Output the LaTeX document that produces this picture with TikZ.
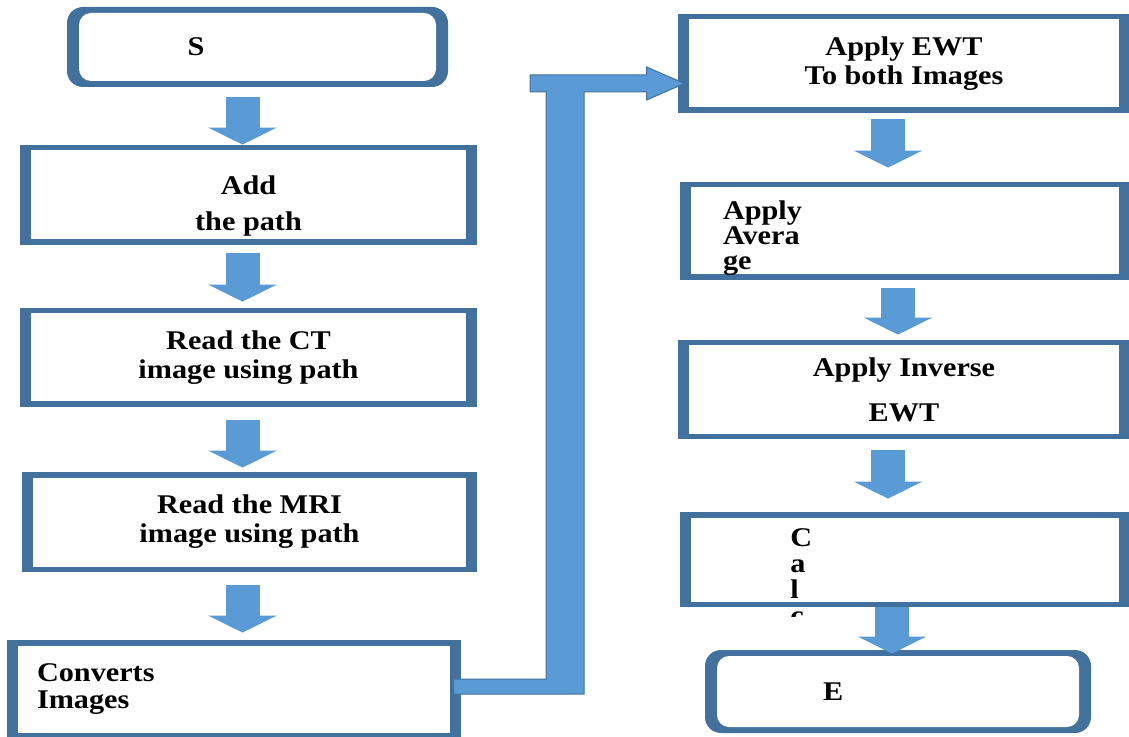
\documentclass[tikz,border=0pt]{standalone}
\usepackage{fontspec}
\setmainfont{Liberation Serif}[FakeStretch=1.12]
\usetikzlibrary{calc, arrows.meta}

\definecolor{edgeblue}{HTML}{41719C}
\definecolor{flowblue}{HTML}{5B9BD5}

\begin{document}
\begin{tikzpicture}[
    x=0.5pt, y=-0.5pt,
    stage/.style={fill=edgeblue, minimum width=228.5pt, minimum height=50pt, inner sep=0pt,
        align=center, font=\bfseries\fontsize{13.5}{14.5}\selectfont,
        path picture={\fill[white] ([xshift=5.5pt,yshift=-2.75pt]path picture bounding box.north west)
            rectangle ([xshift=-5.5pt,yshift=2.75pt]path picture bounding box.south east);}},
    terminal/.style={stage, rounded corners=8pt,
        path picture={\fill[white, rounded corners=6pt] ([xshift=6pt,yshift=-3pt]path picture bounding box.north west)
            rectangle ([xshift=-6pt,yshift=3pt]path picture bounding box.south east);}},
    flowdown/.style={draw=flowblue, line width=17pt, -{Triangle[width=34pt, length=8.5pt]}},
    elbow/.style={fill=flowblue, draw=edgeblue, line width=0.5pt, line join=miter}
]
    \useasboundingbox (0,0) rectangle (1129,737);

    % Left column
    \node[terminal, minimum width=190.5pt, minimum height=40pt, text width=70pt, inner xsep=60.25pt, align=left] (start) at (257.5,47) {S};
    \node[stage, font=\bfseries\fontsize{13.5}{18}\selectfont] (add) at (248.5,195) {\rule{0pt}{20pt}Add\\the path};
    \node[stage, minimum height=49.5pt] (ct) at (248.5,357.5) {Read the CT\\image using path};
    \node[stage, minimum width=227.5pt] (mri) at (249.5,522) {Read the MRI\\image using path};
    \node[stage, minimum width=227pt, minimum height=49pt, text width=197pt, inner xsep=15pt, align=left,
        font=\bfseries\fontsize{13.5}{13.5}\selectfont] (conv) at (234,689) {Converts\\Images};

    % Right column
    \node[stage, minimum width=226pt, minimum height=49.5pt] (ewt) at (904,63.5) {Apply EWT\\To both Images};
    \node[stage, minimum width=225pt, minimum height=49pt, text width=182pt, inner xsep=21.5pt, align=left,
        font=\bfseries\fontsize{13.5}{12.5}\selectfont] (avg) at (905,231) {\rule{0pt}{16pt}Apply\\Avera\\ge};
    \node[stage, minimum width=226pt, minimum height=49.5pt, font=\bfseries\fontsize{13.5}{22.5}\selectfont] (inv) at (904,389.5) {Apply Inverse\\EWT};
    \node[stage, minimum width=225pt, minimum height=47.5pt] (calc) at (905,559.5) {};
    \begin{scope}
        \clip (680,500) rectangle (1129,616);
        \node[anchor=north west, inner sep=0pt, align=left, font=\bfseries\fontsize{13.5}{13}\selectfont] (calctext) at (790,528) {C\\a\\l\\c};
    \end{scope}
    \node[terminal, minimum width=193pt, minimum height=41.5pt, text width=75pt, inner xsep=59pt, align=left] (end) at (898,691.5) {E};

    % Arrows
    \coordinate (colL) at (242.5,0);
    \coordinate (colR) at (888,0);
    \draw[flowdown] ($(start.south -| colL)+(0,10)$) -- (add.north -| colL);
    \draw[flowdown] ($(add.south -| colL)+(0,8)$) -- ($(ct.north -| colL)+(0,-6)$);
    \draw[flowdown] ($(ct.south -| colL)+(0,13)$) -- ($(mri.north -| colL)+(0,-4)$);
    \draw[flowdown] ($(mri.south -| colL)+(0,13)$) -- ($(conv.north -| colL)+(0,-7)$);
    \draw[flowdown] ($(ewt.south -| colR)+(0,6)$) -- ($(avg.north -| colR)+(0,-14)$);
    \draw[flowdown] ($(avg.south -| colR)+(10,8)$) -- ($(inv.north -| colR)+(10,-5)$);
    \draw[flowdown] ($(inv.south -| colR)+(0,11)$) -- ($(calc.north -| colR)+(0,-13)$);
    \draw[flowdown] ($(calc.south -| colR)+(4,0)$) -- ($(end.north -| colR)+(4,4)$);

    % Bent arrow from conv to ewt
    \coordinate (tail) at ($(conv.east)+(-8,-2.5)$);
    \coordinate (tip) at ($(ewt.west)+(7,20)$);
    \coordinate (turn) at (565,0);
    \filldraw[elbow] ($(tail)+(0,-7.5)$) -- ($(turn |- tail)+(-19,-7.5)$) -- ($(turn |- tip)+(-19,8.5)$)
        -- ($(turn |- tip)+(-35,8.5)$) -- ($(turn |- tip)+(-35,-8.5)$) -- ($(tip)+(-38,-8.5)$)
        -- ($(tip)+(-38,-16.5)$) -- (tip) -- ($(tip)+(-38,16.5)$) -- ($(tip)+(-38,8.5)$)
        -- ($(turn |- tip)+(19,8.5)$) -- ($(turn |- tail)+(19,7.5)$) -- ($(tail)+(0,7.5)$) -- cycle;

\end{tikzpicture}
\end{document}
